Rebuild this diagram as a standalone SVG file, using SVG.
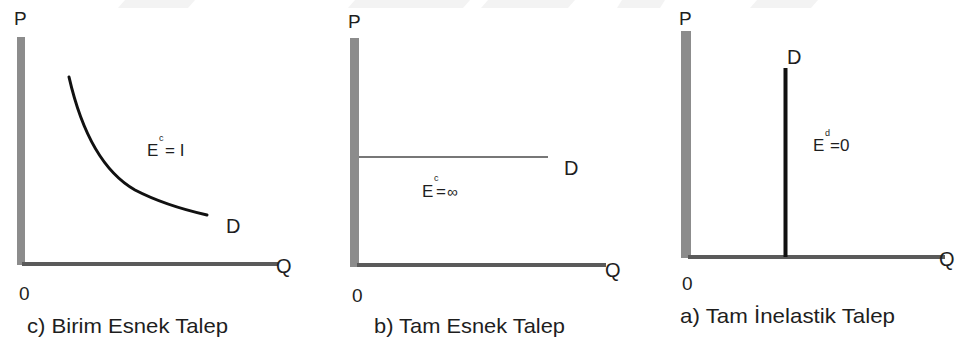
<svg xmlns="http://www.w3.org/2000/svg" width="955" height="345" viewBox="0 0 955 345">
<style>
text{font-family:"Liberation Sans","Open Sans",sans-serif;fill:#1e1e1e}
.ax{font-size:19px}
.lbl{font-size:20px}
.cap{font-size:21px}
.eq{font-size:17px}
.sup{font-size:9px}
.vbar{fill:#8c8c8c}
.hax{stroke:#5a5a5a;stroke-width:4;fill:none}
</style>
<rect width="955" height="345" fill="#ffffff"/>
<g id="watermark" fill="#f3f3f3">
<polygon points="125,0 195,0 188,8 118,8"/>
<polygon points="355,0 470,0 463,8 348,8"/>
<polygon points="488,0 575,0 568,8 481,8"/>
<polygon points="622,0 665,0 660,8 617,8"/>
<polygon points="757,0 818,0 811,8 750,8"/>
</g>
<g id="panel-c">
<rect class="vbar" x="17" y="37" width="8" height="228"/>
<line class="hax" x1="22" y1="264" x2="278" y2="264"/>
<path d="M69,77 C80,125 100,170 135,190 C160,203 185,210 207,215" fill="none" stroke="#111" stroke-width="3" stroke-linecap="round"/>
<text class="ax" x="14" y="25">P</text>
<text class="lbl" x="276" y="273">Q</text>
<text class="ax" x="19" y="300">0</text>
<text class="lbl" x="226" y="233">D</text>
<text class="eq" x="147" y="156">E</text>
<text class="sup" x="159" y="141">c</text>
<text class="eq" x="165" y="156">= I</text>
<text class="cap" x="27" y="333" textLength="201" lengthAdjust="spacingAndGlyphs">c) Birim Esnek Talep</text>
</g>
<g id="panel-b">
<rect class="vbar" x="350" y="38" width="9" height="229"/>
<line class="hax" x1="357" y1="265" x2="606" y2="265"/>
<line x1="359" y1="157" x2="548" y2="157" stroke="#4a4a4a" stroke-width="1.5"/>
<text class="ax" x="348" y="28">P</text>
<text class="lbl" x="605" y="277">Q</text>
<text class="ax" x="352" y="302">0</text>
<text class="lbl" x="564" y="175">D</text>
<text class="eq" x="422" y="197">E</text>
<text class="sup" x="434" y="181">c</text>
<text class="eq" x="436" y="197">=</text>
<text class="eq" x="447" y="197" style="font-size:15px">∞</text>
<text class="cap" x="374" y="333" textLength="191" lengthAdjust="spacingAndGlyphs">b) Tam Esnek Talep</text>
</g>
<g id="panel-a">
<rect class="vbar" x="681" y="31" width="10" height="227"/>
<line class="hax" x1="688" y1="257" x2="945" y2="257"/>
<line x1="785.5" y1="68" x2="785.5" y2="257" stroke="#111" stroke-width="4"/>
<text class="ax" x="679" y="25">P</text>
<text class="lbl" x="939" y="266">Q</text>
<text class="ax" x="682" y="290">0</text>
<text class="lbl" x="787" y="64">D</text>
<text class="eq" x="813" y="151">E</text>
<text class="sup" x="825" y="136">d</text>
<text class="eq" x="830" y="151">=0</text>
<text class="cap" x="680" y="323" textLength="215" lengthAdjust="spacingAndGlyphs">a) Tam İnelastik Talep</text>
</g>
</svg>
